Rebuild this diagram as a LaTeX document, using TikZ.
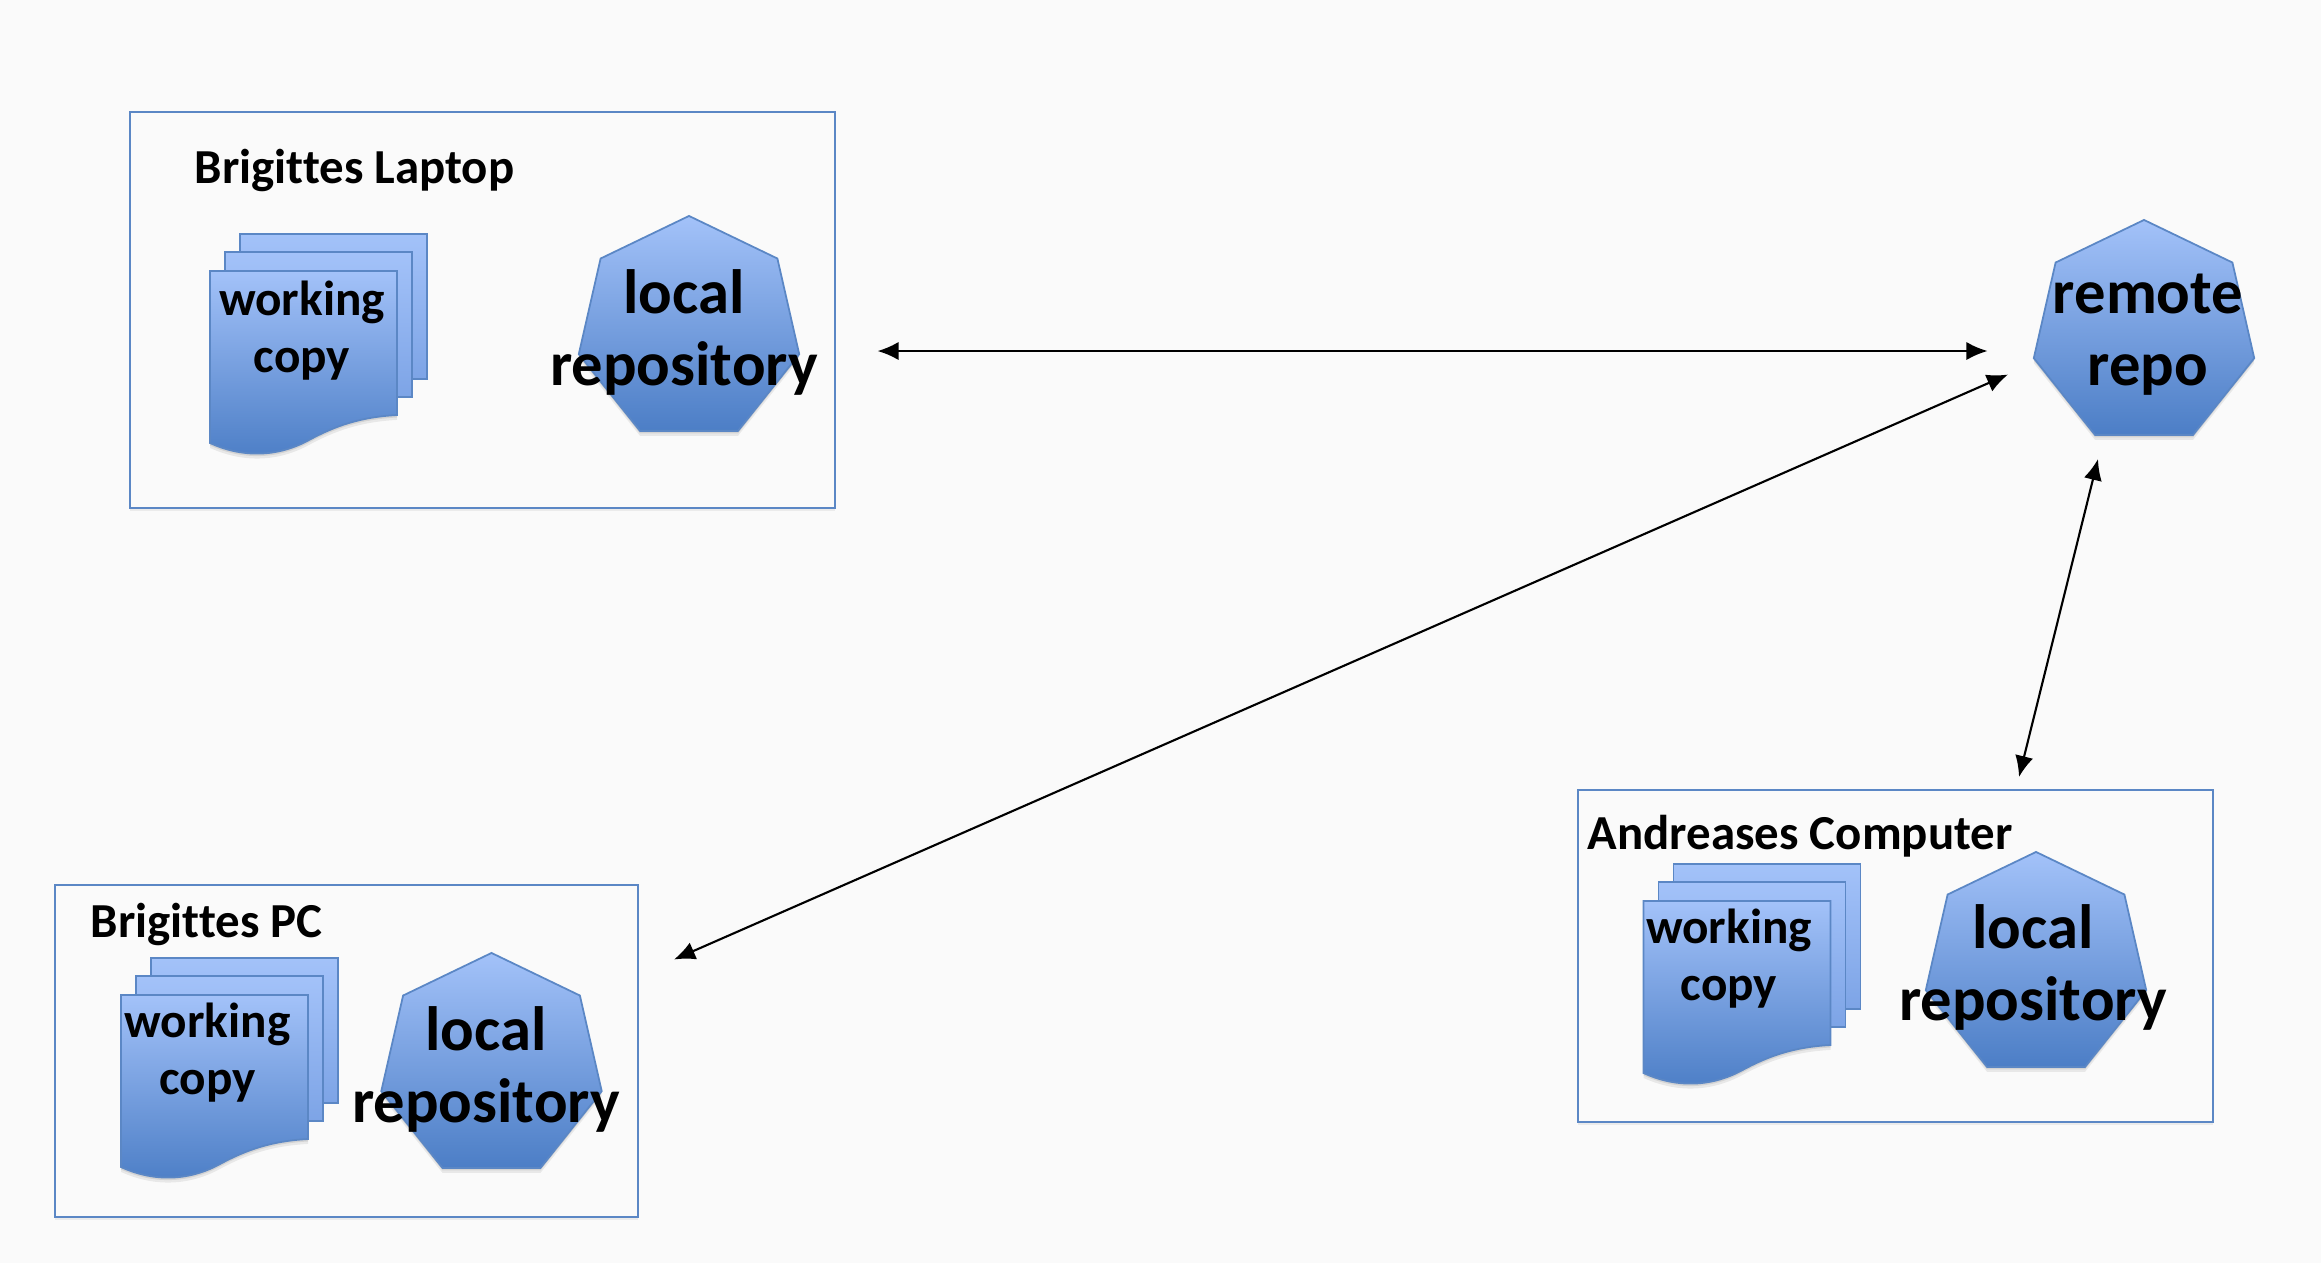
\documentclass[tikz,border=0pt]{standalone}
\usepackage{fontspec}
\setmainfont{Carlito}[Ligatures=NoCommon]
\usetikzlibrary{arrows.meta,shapes.geometric,shadows}
\definecolor{paper}{HTML}{FAFAFA}
\definecolor{edgeblue}{HTML}{5B87C5}
\definecolor{lightblue}{HTML}{A3C2F9}
\definecolor{darkblue}{HTML}{4C7EC6}
\definecolor{midblue}{HTML}{7DA4E6}
\tikzset{
    softshadow/.style={
        drop shadow={shadow xshift=0pt, shadow yshift=-1.4pt, opacity=0.07, fill=black},
        drop shadow={shadow xshift=0pt, shadow yshift=-0.7pt, opacity=0.09, fill=black}},
    groupbox/.style={draw=edgeblue, line width=0.7pt, fill=paper, inner sep=0pt, drop shadow={shadow xshift=0pt, shadow yshift=-0.8pt, opacity=0.06, fill=black}},
    bluefill/.style={draw=edgeblue, line width=0.5pt, top color=lightblue, bottom color=darkblue},
    sheet/.style={draw=edgeblue, line width=0.5pt, top color=lightblue, bottom color=midblue, inner sep=0pt, minimum width=1.87cm, minimum height=1.45cm},
    heptagon/.style={bluefill, softshadow, regular polygon, regular polygon sides=7, inner sep=0pt, minimum size=2.26cm},
    grouptitle/.style={font=\fontsize{13.9}{16}\selectfont\bfseries, anchor=west, inner sep=0pt},
    doctext/.style={font=\fontsize{14}{16.2}\selectfont\bfseries, align=center, inner sep=0pt},
    repotext/.style={font=\fontsize{17.8}{20.5}\selectfont\bfseries, align=center, inner sep=0pt},
    link/.style={<->, >={Latex[length=6pt,width=5.2pt]}, line width=0.6pt},
}
\newcommand{\docstack}[3]{
    \begin{scope}[shift={(#2,#3)}]
        \node (#1back) [sheet] at (123.5,35.5) {};
        \node (#1mid) [sheet] at (108.5,53.5) {};
        \shadedraw[bluefill, softshadow] (0,0) -- (187,0) -- (187,144)
            .. controls (150,146) and (125,155) .. (99,169)
            .. controls (70,185) and (35,188) .. (0,172) -- cycle;
    \end{scope}
}
\begin{document}
\begin{tikzpicture}[x=0.01cm, y=-0.01cm]
    \useasboundingbox[fill=paper] (0,0) rectangle (2321,1263);

    \node (laptop) [groupbox, minimum width=7.05cm, minimum height=3.96cm] at (482.5,310) {};
    \node (pc) [groupbox, minimum width=5.83cm, minimum height=3.32cm] at (346.5,1051) {};
    \node (computer) [groupbox, minimum width=6.35cm, minimum height=3.32cm] at (1895.5,956) {};

    \node (laptoptitle) [grouptitle] at (194,170) {Brigittes Laptop};
    \node (pctitle) [grouptitle] at (90,924) {Brigittes PC};
    \node (computertitle) [grouptitle] at (1587,836) {Andreases Computer};

    \docstack{laptopdoc}{210}{271}
    \docstack{pcdoc}{121}{995}
    \docstack{computerdoc}{1643.5}{901}

    \node (laptopdoctext) [doctext] at (302,330.5) {working\\copy};
    \node (pcdoctext) [doctext] at (207.5,1053) {working\\copy};
    \node (computerdoctext) [doctext] at (1729,959) {working\\copy};

    \node (laptoprepo) [heptagon] at (689,329) {};
    \node (pcrepo) [heptagon] at (491.5,1066) {};
    \node (computerrepo) [heptagon] at (2036,965) {};
    \node (remote) [heptagon] at (2144,333) {};

    \node (laptoprepotext) [repotext] at (684,332) {local\\repository};
    \node (pcrepotext) [repotext] at (486,1069) {local\\repository};
    \node (computerrepotext) [repotext] at (2033,967) {local\\repository};
    \node (remotetext) [repotext] at (2148,335) {remote\\repo};

    \coordinate (laptopend) at (877.5,351);
    \coordinate (remoteleft) at (1987.5,351);
    \coordinate (pcend) at (674,959.5);
    \coordinate (remotelow) at (2008,374.5);
    \coordinate (computerend) at (2019,777);
    \coordinate (remotebottom) at (2098,459);

    \draw[link] (laptopend) -- (remoteleft);
    \draw[link] (pcend) -- (remotelow);
    \draw[link] (computerend) -- (remotebottom);
\end{tikzpicture}
\end{document}
